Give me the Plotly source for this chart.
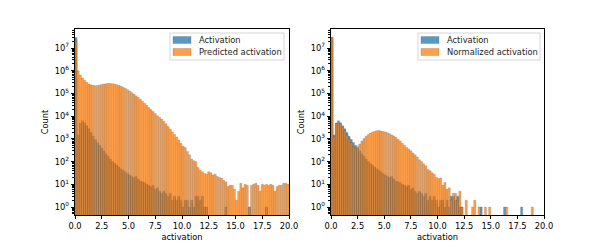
import plotly.graph_objects as go

# ---- data (counts per 0.2-wide bin, bins start at 0.0) ----
bin_width = 0.2
bin_left = [round(i * bin_width, 1) for i in range(100)]

activation = [
    29000000, 1500, 5000, 6300, 5200, 3800, 2800, 1900, 1300, 950,
    700, 520, 400, 300, 220, 170, 130, 100, 85, 70,
    58, 48, 42, 36, 30, 26, 22, 20, 22, 17,
    14, 13, 12, 10, 9, 8, 9, 6, 7, 5,
    4, 5, 4, 3, 4, 2, 3, 2, 3, 2,
    1, 2, 2, 1, 2, 1, 3, 3, 2, 3,
    1, 1, 0, 0, 0, 0, 0, 0, 0, 0,
    1, 0, 0, 0, 0, 0, 0, 0, 0, 0,
    0, 1, 0, 0, 0, 0, 0, 0, 0, 1,
    0, 0, 0, 0, 0, 0, 0, 0, 0, 0,
]

predicted = [
    22000000, 1000000, 650000, 480000, 380000, 310000, 260000, 240000, 230000, 220000,
    225000, 235000, 250000, 260000, 270000, 275000, 275000, 270000, 260000, 245000,
    230000, 210000, 190000, 170000, 150000, 130000, 110000, 95000, 80000, 68000,
    56000, 46000, 37000, 30000, 24000, 19500, 16000, 13000, 10500, 9000,
    7500, 6000, 4600, 3500, 2700, 2000, 1550, 1200, 900, 650,
    480, 420, 280, 200, 130, 110, 100, 55, 42, 36,
    30, 28, 36, 32, 26, 28, 22, 20, 19, 15,
    13, 8, 9, 9, 6, 2, 5, 11, 7, 10,
    9, 1, 9, 10, 11, 9, 5, 10, 9, 10,
    9, 10, 9, 5, 8, 9, 9, 11, 11, 10,
]

normalized = [
    30000000, 1250, 4900, 5000, 4500, 3300, 2300, 1500, 1000, 700,
    450, 400, 480, 600, 800, 1050, 1300, 1550, 1800, 2000,
    2150, 2300, 2350, 2250, 2100, 2000, 1850, 1700, 1500, 1350,
    1150, 950, 800, 650, 520, 420, 360, 300, 240, 200,
    160, 120, 100, 80, 65, 45, 40, 32, 28, 20,
    18, 19, 9, 12, 6, 7, 2, 4, 4, 2,
    5, 1, 0, 2, 0, 0, 1, 2, 0, 1,
    0, 0, 1, 0, 1, 0, 0, 0, 0, 0,
    0, 0, 1, 0, 0, 0, 0, 0, 0, 0,
    0, 0, 0, 0, 1, 0, 0, 0, 0, 0,
]

x_ticks = [0, 2.5, 5, 7.5, 10, 12.5, 15, 17.5, 20]
x_ticktext = ["0.0", "2.5", "5.0", "7.5", "10.0", "12.5", "15.0", "17.5", "20.0"]
y_exps = [0, 1, 2, 3, 4, 5, 6, 7]

# ---- styling ----
BLUE = "#1f77b4"
ORANGE = "#ff7f0e"
FONT = "DejaVu Sans"
FS = 8.3

centers = [b + bin_width / 2 for b in bin_left]


def clean(vals):
    return [v if v > 0 else None for v in vals]


fig = go.Figure()


def add_hist(vals, color, name, xa, ya):
    fig.add_trace(go.Bar(
        x=centers, y=clean(vals), width=[bin_width] * len(centers),
        marker=dict(color=color, line=dict(color="rgba(0,0,0,0.6)", width=0.3)),
        opacity=0.75, name=name, xaxis=xa, yaxis=ya, showlegend=False,
    ))


add_hist(activation, BLUE, "Activation", "x", "y")
add_hist(predicted, ORANGE, "Predicted activation", "x", "y")
add_hist(activation, BLUE, "Activation", "x2", "y2")
add_hist(normalized, ORANGE, "Normalized activation", "x2", "y2")

W, H = 605, 242
left1, right1 = 75, 289
left2, right2 = 331, 544
top, bottom = 29, 215
ydom = [(H - bottom) / H, (H - top) / H]

minor_vals = [m * 10 ** e for e in range(-1, 8) for m in range(2, 10)]

axis_common = dict(
    showline=True, mirror=True, linecolor="black", linewidth=0.8,
    showgrid=False, zeroline=False, ticks="outside", ticklen=3.5,
    tickwidth=0.8, tickcolor="black", automargin=False,
    tickfont=dict(family=FONT, size=FS, color="black"),
)

xcommon = dict(axis_common, range=[0, 20], tickvals=x_ticks, ticktext=x_ticktext,
               title=dict(text="activation", font=dict(family=FONT, size=FS, color="black"), standoff=3))
ycommon = dict(axis_common, type="log", range=[-0.352, 7.84],
               tickvals=[10 ** e for e in y_exps],
               ticktext=["10<sup>%d</sup>" % e for e in y_exps],
               minor=dict(tickvals=minor_vals, ticks="outside", ticklen=2, tickwidth=0.6, tickcolor="black"),
               title=dict(text="Count", font=dict(family=FONT, size=FS, color="black"), standoff=4))

# ---- hand-drawn legends (matplotlib style) ----
def px_x(v):
    return v / W


def px_y(v):
    return 1 - v / H


shapes = []
annotations = []
legends = [
    (170, 284, [("Activation", BLUE), ("Predicted activation", ORANGE)]),
    (418, 540, [("Activation", BLUE), ("Normalized activation", ORANGE)]),
]
for (lx0, lx1, items) in legends:
    shapes.append(dict(type="rect", xref="paper", yref="paper",
                       x0=px_x(lx0), x1=px_x(lx1), y0=px_y(60), y1=px_y(33),
                       line=dict(color="#cccccc", width=0.8),
                       fillcolor="rgba(255,255,255,0.8)", layer="above"))
    for i, (label, color) in enumerate(items):
        cy = 40 + 12 * i
        shapes.append(dict(type="rect", xref="paper", yref="paper",
                           x0=px_x(lx0 + 3), x1=px_x(lx0 + 21),
                           y0=px_y(cy + 3.5), y1=px_y(cy - 3.5),
                           line=dict(color="rgba(0,0,0,0.5)", width=0.4),
                           fillcolor=color, opacity=0.75, layer="above"))
        annotations.append(dict(xref="paper", yref="paper",
                                x=px_x(lx0 + 27), y=px_y(cy), text=label,
                                showarrow=False, xanchor="left", yanchor="middle",
                                font=dict(family=FONT, size=FS, color="#222222")))

fig.update_layout(
    width=W, height=H, margin=dict(l=0, r=0, t=0, b=0, autoexpand=False),
    paper_bgcolor="white", plot_bgcolor="white",
    barmode="overlay", showlegend=False,
    xaxis=dict(xcommon, domain=[left1 / W, right1 / W], anchor="y"),
    yaxis=dict(ycommon, domain=ydom, anchor="x"),
    xaxis2=dict(xcommon, domain=[left2 / W, right2 / W], anchor="y2"),
    yaxis2=dict(ycommon, domain=ydom, anchor="x2"),
    shapes=shapes, annotations=annotations,
    font=dict(family=FONT, size=FS, color="black"),
)

fig.write_html("out.html", config={"displayModeBar": False},
               post_script="document.body.style.margin='0px';")
